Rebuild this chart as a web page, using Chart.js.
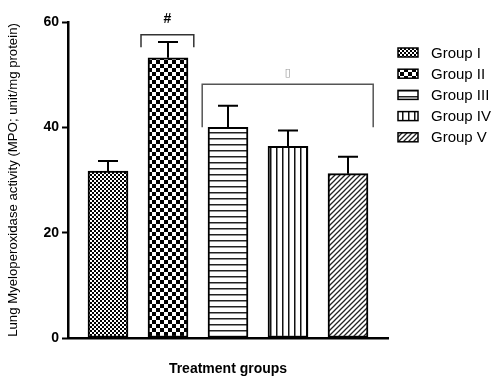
<!DOCTYPE html>
<html>
<head>
<meta charset="utf-8">
<script src="https://cdn.jsdelivr.net/npm/chart.js@4.4.1/dist/chart.umd.min.js"></script>
<style>
  html, body { margin: 0; padding: 0; background: #fff; }
  #wrap { width: 500px; height: 381px; }
</style>
</head>
<body>
<div id="wrap"><canvas id="mpoChart" width="500" height="381"></canvas></div>
<script>
// data
const groups = ["Group I", "Group II", "Group III", "Group IV", "Group V"];
const mpoMean = [31.7, 53.2, 40.0, 36.4, 31.2];
const mpoErr = [1.9, 3.0, 4.1, 3.0, 3.2];
const yTicks = [0, 20, 40, 60];
// significance brackets: [from, to, top value, foot value, mark]
const brackets = [
  [0.55, 1.43, 57.6, 55.2, "#"],
  [1.57, 4.42, 48.2, 40.0, "\u25AF"]
];

const FONT = "'Liberation Sans', Arial, sans-serif";

function makePattern(kind) {
  let c = document.createElement("canvas");
  let g = c.getContext("2d");
  let s;
  if (kind === "fineChecker") {
    s = 4; c.width = s; c.height = s;
    g.fillStyle = "#fff"; g.fillRect(0, 0, s, s);
    g.fillStyle = "#000";
    g.fillRect(0, 0, 2, 2); g.fillRect(2, 2, 2, 2);
  } else if (kind === "checker") {
    s = 8; c.width = s; c.height = s;
    g.fillStyle = "#fff"; g.fillRect(0, 0, s, s);
    g.fillStyle = "#000";
    g.fillRect(0, 0, 4, 4); g.fillRect(4, 4, 4, 4);
  } else if (kind === "hlines") {
    c.width = 10; c.height = 6;
    g.fillStyle = "#fff"; g.fillRect(0, 0, 10, 6);
    g.fillStyle = "#222"; g.fillRect(0, 0, 10, 1.5);
  } else if (kind === "vlines") {
    c.width = 6; c.height = 10;
    g.fillStyle = "#fff"; g.fillRect(0, 0, 6, 10);
    g.fillStyle = "#111"; g.fillRect(0, 0, 1.5, 10);
  } else {
    s = 5; c.width = s; c.height = s;
    g.fillStyle = "#fff"; g.fillRect(0, 0, s, s);
    g.strokeStyle = "#222"; g.lineWidth = 1.3;
    g.beginPath();
    g.moveTo(0, s); g.lineTo(s, 0);
    g.moveTo(-1, 1); g.lineTo(1, -1);
    g.moveTo(s - 1, s + 1); g.lineTo(s + 1, s - 1);
    g.stroke();
  }
  return document.getElementById("mpoChart").getContext("2d").createPattern(c, "repeat");
}

const fills = ["fineChecker", "checker", "hlines", "vlines", "diag"].map(makePattern);

const datasets = groups.map(function (name, i) {
  return {
    label: name,
    data: [{ x: i, y: mpoMean[i] }],
    err: mpoErr[i],
    backgroundColor: fills[i],
    borderColor: "#000",
    borderWidth: 2,
    borderSkipped: false,
    barThickness: 40,
    grouped: false
  };
});

const extrasPlugin = {
  id: "extras",
  afterDatasetsDraw(chart) {
    let ctx = chart.ctx;
    let xs = chart.scales.x, ys = chart.scales.y;
    ctx.save();
    ctx.strokeStyle = "#000";
    ctx.lineWidth = 2;
    // error bars
    chart.data.datasets.forEach(function (ds) {
      let p = ds.data[0];
      let x = xs.getPixelForValue(p.x);
      let y0 = ys.getPixelForValue(p.y);
      let y1 = ys.getPixelForValue(p.y + ds.err);
      ctx.beginPath();
      ctx.moveTo(x, y0); ctx.lineTo(x, y1);
      ctx.moveTo(x - 10, y1); ctx.lineTo(x + 10, y1);
      ctx.stroke();
    });
    // brackets
    brackets.forEach(function (b, i) {
      let xa = xs.getPixelForValue(b[0]), xb = xs.getPixelForValue(b[1]);
      let yt = ys.getPixelForValue(b[2]), yf = ys.getPixelForValue(b[3]);
      ctx.strokeStyle = i === 0 ? "#333" : "#555";
      ctx.lineWidth = 1.5;
      ctx.beginPath();
      ctx.moveTo(xa, yf); ctx.lineTo(xa, yt); ctx.lineTo(xb, yt); ctx.lineTo(xb, yf);
      ctx.stroke();
      ctx.textAlign = "center";
      ctx.textBaseline = "bottom";
      if (i === 0) {
        ctx.fillStyle = "#000";
        ctx.font = "bold 14px " + FONT;
        ctx.fillText(b[4], (xa + xb) / 2, yt - 8);
      } else {
        ctx.fillStyle = "#999";
        ctx.font = "11px 'DejaVu Sans'";
        ctx.fillText(b[4], (xa + xb) / 2, yt - 6);
      }
    });
    // legend
    ctx.font = "15px " + FONT;
    ctx.textAlign = "left";
    ctx.textBaseline = "middle";
    chart.data.datasets.forEach(function (ds, i) {
      let cy = 52.5 + i * 21.2;
      ctx.fillStyle = ds.backgroundColor;
      ctx.fillRect(398, cy - 4.5, 20, 9);
      ctx.strokeStyle = "#000";
      ctx.lineWidth = 1.5;
      ctx.strokeRect(398, cy - 4.5, 20, 9);
      ctx.fillStyle = "#000";
      ctx.fillText(ds.label, 431, cy + 1);
    });
    ctx.restore();
  }
};

new Chart(document.getElementById("mpoChart"), {
  type: "bar",
  data: { datasets: datasets },
  options: {
    responsive: false,
    animation: false,
    layout: { padding: { top: 22, right: 112, left: 0, bottom: 0 } },
    plugins: { legend: { display: false }, tooltip: { enabled: false } },
    scales: {
      x: {
        type: "linear",
        min: -2 / 3,
        max: 14 / 3,
        offset: false,
        afterFit: function (s) { s.height = 43; },
        ticks: { display: false },
        grid: { display: false },
        border: { color: "#000", width: 2.5 },
        title: {
          display: true,
          text: "Treatment groups",
          color: "#000",
          font: { family: FONT, size: 14, weight: "bold" },
          padding: { top: 0, bottom: 3 }
        }
      },
      y: {
        min: 0,
        max: 60,
        afterFit: function (s) { s.width = 68; },
        afterBuildTicks: function (s) { s.ticks = yTicks.map(function (v) { return { value: v }; }); },
        ticks: {
          color: "#000",
          padding: 3,
          font: { family: FONT, size: 14, weight: "bold" }
        },
        grid: {
          drawOnChartArea: false,
          drawTicks: true,
          tickLength: 6,
          tickColor: "#000",
          tickWidth: 2
        },
        border: { color: "#000", width: 2.5 },
        title: {
          display: true,
          text: "Lung Myeloperoxidase activity (MPO; unit/mg protein)",
          color: "#000",
          font: { family: FONT, size: 13.2 },
          padding: { top: 5, bottom: 0 }
        }
      }
    }
  },
  plugins: [extrasPlugin]
});
</script>
</body>
</html>
